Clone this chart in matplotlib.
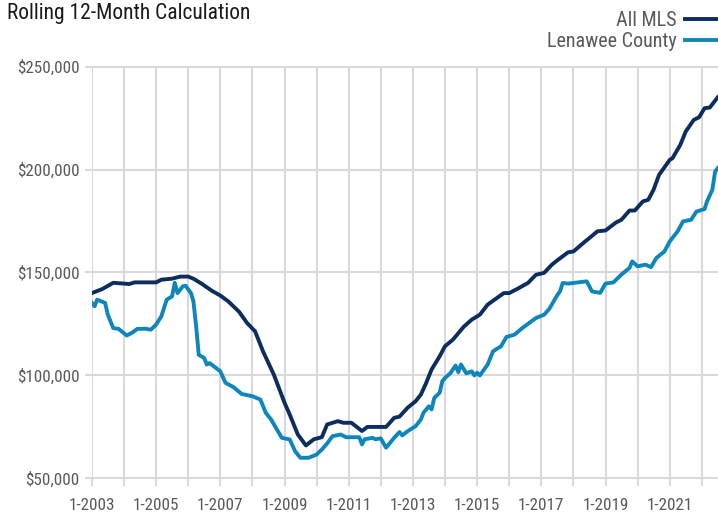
import matplotlib
matplotlib.use('Agg')
import matplotlib.pyplot as plt
import matplotlib.dates as mdates
from matplotlib.ticker import FuncFormatter, MultipleLocator
import pandas as pd

# rolling 12-month values
mls_dates = ['2003-01', '2003-05', '2003-09', '2004-03', '2004-05', '2005-01', '2005-03',
             '2005-07', '2005-10', '2006-01', '2006-03', '2006-06', '2006-10', '2007-01',
             '2007-04', '2007-08', '2007-11', '2008-02', '2008-05', '2008-09', '2009-01',
             '2009-03', '2009-06', '2009-09', '2009-12', '2010-03', '2010-05', '2010-09',
             '2010-11', '2011-02', '2011-06', '2011-08', '2012-03', '2012-06', '2012-08',
             '2012-11', '2013-02', '2013-04', '2013-06', '2013-08', '2013-11', '2014-01',
             '2014-04', '2014-08', '2014-11', '2015-02', '2015-05', '2015-08', '2015-11',
             '2016-01', '2016-04', '2016-08', '2016-11', '2017-02', '2017-05', '2017-07',
             '2017-11', '2018-01', '2018-05', '2018-07', '2018-10', '2019-01', '2019-05',
             '2019-07', '2019-10', '2019-12', '2020-03', '2020-05', '2020-07', '2020-09',
             '2021-01', '2021-02', '2021-05', '2021-07', '2021-10', '2021-12', '2022-02',
             '2022-04', '2022-07']
mls_values = [140000, 142000, 145000, 144400, 145200, 145200, 146500,
              147000, 148000, 148000, 147000, 144600, 141000, 138800,
              136000, 131000, 125500, 121400, 111700, 100400, 86700,
              81000, 71300, 66000, 69000, 70000, 76200, 77800,
              77000, 77000, 73000, 75000, 75000, 79400, 80000,
              84300, 87500, 90700, 96400, 102900, 109300, 114200,
              117400, 123600, 127100, 129500, 134400, 137200, 140000,
              140000, 142000, 144900, 148900, 149800, 153800, 155900,
              159800, 160200, 164600, 166700, 170000, 170400, 174300,
              175600, 180100, 180100, 184500, 185300, 190200, 197400,
              204700, 205500, 212000, 218400, 224100, 225400, 229800,
              230100, 235100]

len_dates = ['2003-01', '2003-02', '2003-03', '2003-06', '2003-07', '2003-09', '2003-11',
             '2004-02', '2004-04', '2004-06', '2004-09', '2004-11', '2005-01', '2005-03',
             '2005-05', '2005-07', '2005-08', '2005-09', '2005-11', '2005-12', '2006-02',
             '2006-03', '2006-04', '2006-05', '2006-07', '2006-08', '2006-09', '2007-01',
             '2007-03', '2007-06', '2007-09', '2008-01', '2008-04', '2008-06', '2008-08',
             '2008-10', '2008-12', '2009-03', '2009-05', '2009-07', '2009-10', '2010-01',
             '2010-03', '2010-05', '2010-07', '2010-10', '2010-12', '2011-05', '2011-06',
             '2011-07', '2011-10', '2011-11', '2012-01', '2012-03', '2012-06', '2012-08',
             '2012-09', '2012-11', '2013-02', '2013-04', '2013-05', '2013-07', '2013-08',
             '2013-09', '2013-11', '2013-12', '2014-01', '2014-03', '2014-05', '2014-06',
             '2014-07', '2014-09', '2014-11', '2014-12', '2015-01', '2015-02', '2015-05',
             '2015-07', '2015-10', '2015-12', '2016-03', '2016-06', '2016-11', '2017-02',
             '2017-04', '2017-07', '2017-08', '2017-09', '2017-11', '2018-06', '2018-08',
             '2018-11', '2019-01', '2019-04', '2019-07', '2019-10', '2019-11', '2020-01',
             '2020-04', '2020-06', '2020-08', '2020-11', '2021-01', '2021-04', '2021-06',
             '2021-09', '2021-11', '2022-02', '2022-03', '2022-05', '2022-06', '2022-07']
len_values = [135200, 133600, 136800, 135200, 129500, 123000, 122600,
              119400, 120700, 122600, 122700, 122200, 124700, 128700,
              136800, 138400, 145000, 140000, 143300, 143600, 140000,
              136000, 123900, 110000, 108500, 105300, 106000, 102000,
              96400, 94300, 91000, 89900, 88300, 81900, 78600,
              74100, 69700, 68900, 63200, 60000, 60000, 61600,
              64000, 67000, 70500, 71300, 70000, 70000, 66500,
              69000, 69700, 69000, 69400, 64900, 69700, 72500,
              70900, 72900, 75400, 78600, 81900, 85000, 83500,
              89100, 91600, 97200, 98800, 101000, 104800, 101600,
              105300, 101000, 102000, 100000, 101300, 100000, 105300,
              111700, 114200, 118700, 119800, 123100, 127900, 129500,
              132300, 139000, 140800, 144900, 144600, 145700, 140800,
              140100, 144600, 145200, 149000, 152200, 155400, 153000,
              153800, 152600, 157000, 160200, 165100, 170000, 174800,
              175600, 179600, 180800, 184500, 190200, 199000, 200700]

mls_color = '#0c2d5e'
len_color = '#0e86bb'
grid_color = '#d9d9d9'
text_color = '#595959'

plt.rcParams['font.family'] = ['Roboto Condensed', 'Roboto', 'DejaVu Sans']

fig = plt.figure(figsize=(7.18, 5.15), dpi=100)
ax = fig.add_axes([0.128, 0.0699, 0.872, 0.802])

ax.plot(pd.to_datetime(mls_dates), mls_values, color=mls_color, lw=2.8, label='All MLS',
        solid_joinstyle='round', zorder=3)
ax.plot(pd.to_datetime(len_dates), len_values, color=len_color, lw=2.8, label='Lenawee County',
        solid_joinstyle='round', zorder=2)

ax.set_ylim(49700, 250300)
ax.set_xlim(pd.Timestamp('2003-01-01'), pd.Timestamp('2022-07-04'))
ax.yaxis.set_major_locator(MultipleLocator(50000))
ax.yaxis.set_major_formatter(FuncFormatter(lambda v, p: f'${v:,.0f}'))
ax.xaxis.set_major_locator(mdates.YearLocator(1))


def year_label(v, p):
    yr = mdates.num2date(v).year
    return f'1-{yr}' if yr % 2 == 1 else ''


ax.xaxis.set_major_formatter(FuncFormatter(year_label))

ax.grid(True, color=grid_color, lw=1.5)
ax.set_axisbelow(True)
for s in ax.spines.values():
    s.set_visible(False)
ax.tick_params(axis='both', colors=grid_color, width=1.5, labelcolor=text_color, labelsize=12.3)
ax.tick_params(axis='y', length=5, pad=4)
ax.tick_params(axis='x', length=5, pad=9)

fig.text(0.0098, 0.994, 'Rolling 12-Month Calculation', ha='left', va='top',
         fontsize=15.5, color='#1a1a1a')

ax.legend(loc='upper right', bbox_to_anchor=(0.999, 0.978), bbox_transform=fig.transFigure,
          markerfirst=False, frameon=False, fontsize=14.5, labelcolor=text_color,
          handlelength=1.6, handletextpad=0.4, labelspacing=0.08, borderaxespad=0,
          borderpad=0)

fig.savefig('out.png', dpi=100)
